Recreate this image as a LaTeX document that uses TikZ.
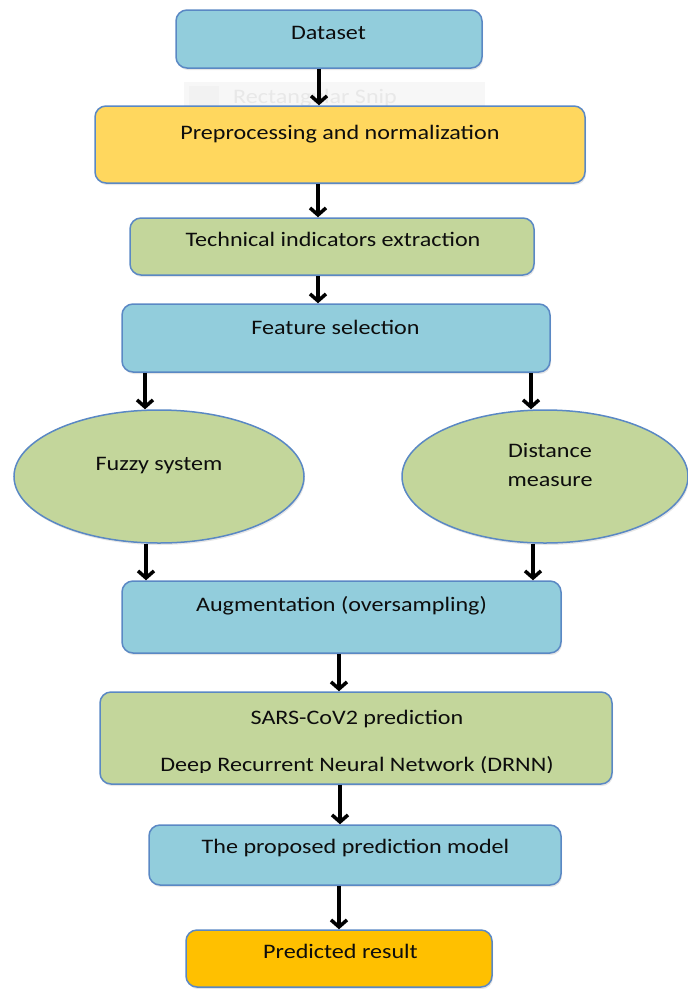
\documentclass[tikz,border=0pt]{standalone}
\usepackage{fontspec}
\setmainfont[FakeStretch=1.17]{Carlito}
\usetikzlibrary{arrows.meta,shapes.geometric,shadows}

\definecolor{boxblue}{HTML}{92CDDC}
\definecolor{boxyellow}{HTML}{FFD75E}
\definecolor{boxgreen}{HTML}{C3D69B}
\definecolor{boxorange}{HTML}{FFC000}
\definecolor{boxline}{HTML}{5A88C4}

\begin{document}
\begin{tikzpicture}[x=1pt,y=-1pt,
  box/.style={draw=boxline,line width=1.5pt,rounded corners=11pt,inner sep=0pt,
    drop shadow={shadow xshift=1pt,shadow yshift=-2pt,opacity=0.2}},
  oval/.style={ellipse,draw=boxline,line width=1.5pt,inner sep=0pt,
    drop shadow={shadow xshift=1pt,shadow yshift=-2pt,opacity=0.2}},
  txt/.style={font=\fontsize{20.6}{24}\selectfont,text=black!95,inner sep=0pt,anchor=base},
  arr/.style={line width=3.5pt,-{Straight Barb[length=7pt,width=16pt]}}]
  \useasboundingbox (0,0) rectangle (688,989);

  % faint leftover of a screen snip behind the second box
  \fill[black!3] (184,82) rectangle (485,106);
  \fill[black!5] (189,86) rectangle (219,106);
  \node[txt,text=black!9,anchor=base west] (snip) at (233,103) {Rectangular Snip};

  % boxes
  \node[box,fill=boxblue,minimum width=306pt,minimum height=58pt] (data) at (329,39) {};
  \node[box,fill=boxyellow,minimum width=490pt,minimum height=77pt] (prep) at (340,144.5) {};
  \node[box,fill=boxgreen,minimum width=404pt,minimum height=57pt] (tech) at (332,246.5) {};
  \node[box,fill=boxblue,minimum width=428pt,minimum height=68pt] (feat) at (336,338) {};
  \node[oval,fill=boxgreen,minimum width=290pt,minimum height=133pt] (fuzzy) at (159,476.5) {};
  \node[oval,fill=boxgreen,minimum width=286pt,minimum height=133pt] (dist) at (545,476.5) {};
  \node[box,fill=boxblue,minimum width=439pt,minimum height=72pt] (aug) at (341.5,617) {};
  \node[box,fill=boxgreen,minimum width=512pt,minimum height=92pt] (sars) at (356,738) {};
  \node[box,fill=boxblue,minimum width=412pt,minimum height=60pt] (prop) at (355,855) {};
  \node[box,fill=boxorange,minimum width=306pt,minimum height=57pt] (pred) at (339,958.5) {};

  % texts
  \node[txt] (datat) at (328.5,39.5) {Dataset};
  \node[txt] (prept) at (340,139.5) {Preprocessing and normalization};
  \node[txt] (techt) at (333,246.5) {Technical indicators extraction};
  \node[txt] (featt) at (335.5,334.5) {Feature selection};
  \node[txt] (fuzzyt) at (159,470.5) {Fuzzy system};
  \node[txt] (distt) at (550,457.5) {Distance};
  \node[txt] (distt2) at (550,486.5) {measure};
  \node[txt] (augt) at (341.5,611.5) {Augmentation (oversampling)};
  \node[txt] (sarst) at (357,724.5) {SARS-CoV2 prediction};
  \begin{scope}
    \clip (100,740) rectangle (612,772);
    \node[txt] (sarst2) at (357,771.5) {Deep Recurrent Neural Network (DRNN)};
  \end{scope}
  \node[txt] (propt) at (355.5,853.5) {The proposed prediction model};
  \node[txt] (predt) at (340.5,958.5) {Predicted result};

  % arrows
  \draw[arr] (data.south -| 319,0) -- (prep.north -| 319,0);
  \draw[arr] (prep.south -| 318,0) -- (tech.north -| 318,0);
  \draw[arr] (tech.south -| 318,0) -- (feat.north -| 318,0);
  \draw[arr] (feat.south -| 145,0) -- (fuzzy.north -| 145,0);
  \draw[arr] (feat.south -| 531,0) -- (dist.north -| 531,0);
  \draw[arr] (fuzzy.south -| 146,0) -- (aug.north -| 146,0);
  \draw[arr] (dist.south -| 533,0) -- (aug.north -| 533,0);
  \draw[arr] (aug.south -| 339,0) -- (sars.north -| 339,0);
  \draw[arr] (sars.south -| 340,0) -- (prop.north -| 340,0);
  \draw[arr] (prop.south -| 339,0) -- (pred.north -| 339,0);
\end{tikzpicture}
\end{document}
